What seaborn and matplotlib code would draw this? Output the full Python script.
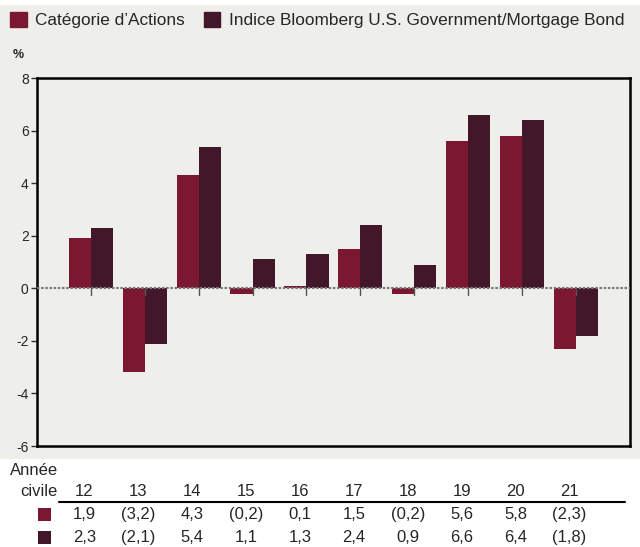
import numpy as np
import pandas as pd
import seaborn as sns
import matplotlib.pyplot as plt
import matplotlib.transforms as mtransforms
from matplotlib.patches import Rectangle

# Data
years = ["12", "13", "14", "15", "16", "17", "18", "19", "20", "21"]
actions = [1.9, -3.2, 4.3, -0.2, 0.1, 1.5, -0.2, 5.6, 5.8, -2.3]
bloomberg = [2.3, -2.1, 5.4, 1.1, 1.3, 2.4, 0.9, 6.6, 6.4, -1.8]
series_names = ["Catégorie d\u2019Actions", "Indice Bloomberg U.S. Government/Mortgage Bond"]
colors = ["#7C1732", "#43172A"]
bg = "#EEEEEA"

df = pd.DataFrame({"year": years * 2,
                   "value": actions + bloomberg,
                   "serie": [series_names[0]] * len(years) + [series_names[1]] * len(years)})

def fmt(v):
    s = f"{abs(v):.1f}".replace(".", ",")
    return f"({s})" if v < 0 else s

sns.set_style("white")
plt.rcParams['font.family'] = ['Liberation Sans', 'DejaVu Sans']
plt.rcParams['axes.unicode_minus'] = False

fig = plt.figure(figsize=(6.4, 5.47), dpi=100)
fig.patches.append(Rectangle((0, 0.161), 1, 0.83, transform=fig.transFigure,
                             facecolor=bg, edgecolor="none", zorder=-10))
ax = fig.add_axes([0.0578, 0.1846, 0.9262, 0.6724])
ax.set_facecolor(bg)

sns.barplot(data=df, x="year", y="value", hue="serie", palette=colors,
            width=0.82, saturation=1, ax=ax, legend=False, linewidth=0, edgecolor="none")

ax.set_xlim(-1, len(years))
ax.set_ylim(-6, 8)
ax.set_yticks(range(-6, 9, 2))
ax.set_xlabel("")
ax.set_ylabel("")
ax.axhline(0, color="#777777", lw=1.5, ls=(0, (1.2, 0.8)), zorder=3)
ax.set_xticks(range(len(years)))
ax.set_xticklabels([])
ax.tick_params(axis="x", direction="in", length=0, pad=0)
ax.tick_params(axis="y", left=True, length=4, width=1, labelsize=10, pad=2, color="#333333")
for s in ax.spines.values():
    s.set_color("black")
    s.set_linewidth(1.8)

# small ticks on zero line at group centres
for i in range(len(years)):
    ax.plot([i, i], [0, -0.25], color="#555555", lw=1, zorder=3)

fig.text(0.028, 0.9, "%", fontsize=9, fontweight="bold", ha="center", va="center")

# legend
handles = [Rectangle((0, 0), 1, 1, color=c) for c in colors]
fig.legend(handles, series_names, loc="upper left", bbox_to_anchor=(0.0, 0.997),
           ncol=2, frameon=False, fontsize=12.4, handlelength=0.95, handleheight=0.95,
           handletextpad=0.5, columnspacing=1.1, borderaxespad=0.2)

# table under the chart
tr = mtransforms.blended_transform_factory(ax.transData, fig.transFigure)
fig.text(0.09, 0.14, "Année", fontsize=12, ha="right", va="center")
fig.text(0.09, 0.102, "civile", fontsize=12, ha="right", va="center")
for i, y in enumerate(years):
    fig.text(i - 0.12, 0.102, y, fontsize=12, ha="center", va="center", transform=tr)
    fig.text(i - 0.12, 0.060, fmt(actions[i]), fontsize=12, ha="center", va="center", transform=tr)
    fig.text(i - 0.12, 0.018, fmt(bloomberg[i]), fontsize=12, ha="center", va="center", transform=tr)
fig.add_artist(plt.Line2D([0.092, 0.977], [0.082, 0.082], color="black", lw=1.5,
                          transform=fig.transFigure))
for yy, c in zip([0.060, 0.018], colors):
    fig.patches.append(Rectangle((0.06, yy - 0.012), 0.019, 0.024,
                                 transform=fig.transFigure, facecolor=c, edgecolor="none"))

fig.savefig("out.png", dpi=100)
